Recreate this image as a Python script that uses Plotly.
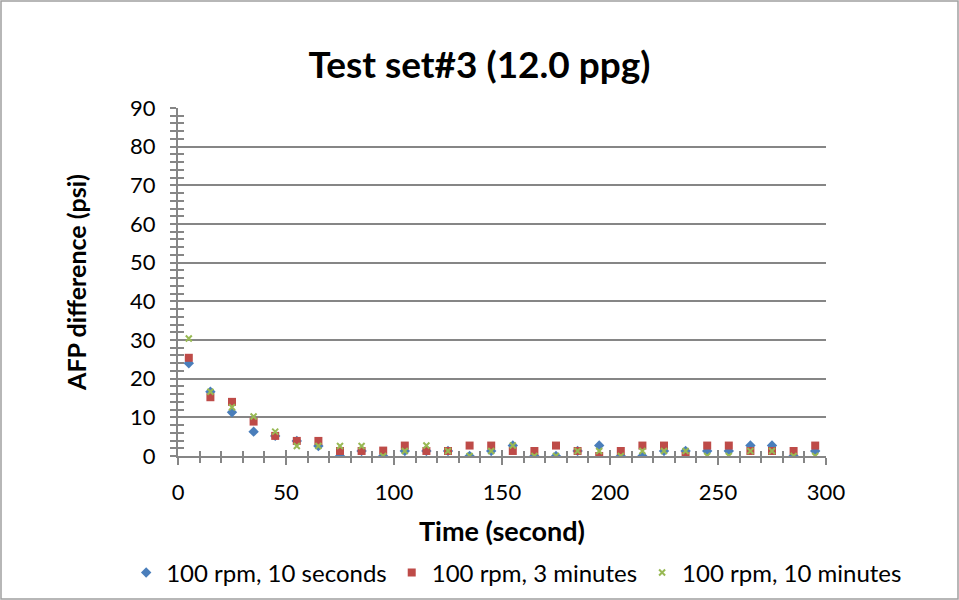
import plotly.graph_objects as go

time_s = [5, 15, 25, 35, 45, 55, 65, 75, 85, 95, 105, 115, 125, 135, 145, 155, 165, 175, 185, 195,
          205, 215, 225, 235, 245, 255, 265, 275, 285, 295]
rpm100_10s = [24.0, 16.6, 11.3, 6.3, 5.2, 3.9, 2.6, 0.0, 1.3, 0.0, 1.3, 1.3, 1.3, 0.0, 1.3, 2.7, 0.0, 0.0, 1.3, 2.7,
              0.0, 0.0, 1.3, 1.3, 1.3, 1.3, 2.7, 2.7, 0.0, 1.3]
rpm100_3min = [25.4, 15.2, 14.0, 8.9, 5.2, 3.9, 3.9, 1.3, 1.3, 1.4, 2.7, 1.3, 1.3, 2.7, 2.7, 1.3, 1.3, 2.7, 1.3, 0.0,
               1.3, 2.7, 2.7, 0.0, 2.7, 2.7, 1.3, 1.3, 1.3, 2.7]
rpm100_10min = [30.4, 16.6, 12.6, 10.2, 6.3, 2.6, 2.6, 2.6, 2.6, 0.0, 1.3, 2.7, 1.3, 0.0, 1.3, 2.7, 0.0, 0.0, 1.3, 1.3,
                0.0, 1.3, 1.3, 1.3, 0.0, 0.0, 1.3, 1.3, 0.0, 0.0]
series_names = ["100 rpm, 10 seconds", "100 rpm, 3 minutes", "100 rpm, 10 minutes"]
x_ticks = [0, 50, 100, 150, 200, 250, 300]
y_ticks = [0, 10, 20, 30, 40, 50, 60, 70, 80, 90]

FONT = "Lato"
AX = "#868686"

fig = go.Figure()
fig.add_trace(go.Scatter(x=time_s, y=rpm100_10s, mode="markers", name=series_names[0],
                         marker=dict(symbol="diamond", size=8, color="#4A7EBB")))
fig.add_trace(go.Scatter(x=time_s, y=rpm100_3min, mode="markers", name=series_names[1],
                         marker=dict(symbol="square", size=8, color="#BE4B48")))
fig.add_trace(go.Scatter(x=time_s, y=rpm100_10min, mode="markers", name=series_names[2],
                         marker=dict(symbol="x-thin", size=6, color="#98B954", line=dict(width=2, color="#98B954"))))

# invisible trace to drive the inside-tick overlay axes
fig.add_trace(go.Scatter(x=[], y=[], xaxis="x2", yaxis="y2", showlegend=False))

fig.update_layout(
    width=959, height=600,
    margin=dict(l=178, r=133, t=108, b=144, autoexpand=False),
    paper_bgcolor="white", plot_bgcolor="white",
    font=dict(family=FONT, size=22, color="black"),
    title=dict(text="<b>Test set#3 (12.0 ppg)</b>", x=0.5, xanchor="center", y=0.892, yanchor="middle",
               font=dict(size=37, family=FONT)),
    xaxis=dict(range=[0, 300], tickvals=x_ticks, ticks="outside", ticklen=7, tickwidth=2, tickcolor=AX,
               showline=True, linecolor=AX, linewidth=2, showgrid=False, zeroline=False,
               minor=dict(dtick=10, ticks="outside", ticklen=5, tickwidth=2, tickcolor=AX),
               title=dict(text="<b>Time (second)</b>", font=dict(size=27), standoff=18),
               ticklabelstandoff=9, tickfont=dict(size=22)),
    yaxis=dict(range=[0, 90], tickvals=y_ticks, ticks="outside", ticklen=6, tickwidth=2, tickcolor=AX,
               showline=True, linecolor=AX, linewidth=2, showgrid=True, gridcolor=AX, gridwidth=1.5,
               zeroline=False,
               minor=dict(dtick=2, ticks="outside", ticklen=6, tickwidth=2, tickcolor=AX, showgrid=False),
               title=dict(text="<b>AFP difference (psi)</b>", font=dict(size=25), standoff=36),
               ticklabelstandoff=10, tickfont=dict(size=22)),
    xaxis2=dict(range=[0, 300], overlaying="x", anchor="y2", side="bottom", tickvals=x_ticks, ticks="inside",
                ticklen=6, tickwidth=2, tickcolor=AX, showticklabels=False, showgrid=False, zeroline=False,
                showline=False, minor=dict(dtick=10, ticks="inside", ticklen=5, tickwidth=2, tickcolor=AX)),
    yaxis2=dict(range=[0, 90], overlaying="y", anchor="x2", side="left", tickvals=y_ticks, ticks="inside",
                ticklen=6, tickwidth=2, tickcolor=AX, showticklabels=False, showgrid=False, zeroline=False,
                showline=False, minor=dict(dtick=2, ticks="inside", ticklen=6, tickwidth=2, tickcolor=AX)),
    legend=dict(orientation="h", x=-0.08, xanchor="left", y=-0.336, yanchor="middle",
                font=dict(size=24), itemsizing="trace", itemwidth=30, traceorder="normal"),
    showlegend=True,
)

# outer chart border
fig.add_shape(type="rect", xref="paper", yref="paper",
              x0=-177/648, x1=780/648, y0=-143/348, y1=455/348,
              line=dict(color="#A0A0A0", width=1.5), fillcolor="rgba(0,0,0,0)", layer="below")

fig.write_html("out.html")
